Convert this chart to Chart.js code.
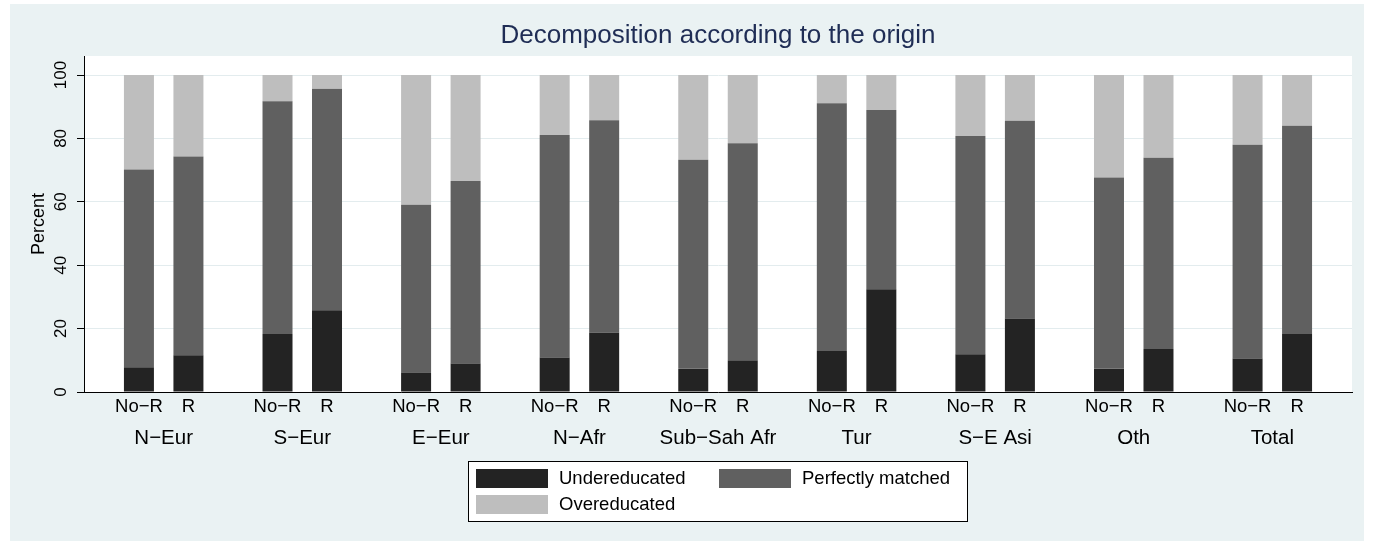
<!DOCTYPE html>
<html>
<head>
<meta charset="utf-8">
<script src="https://cdn.jsdelivr.net/npm/chart.js@4.4.1/dist/chart.umd.min.js"></script>
<style>
  body { margin: 0; background: #fff; }
  #wrap { position: absolute; left: 10px; top: 4px; width: 1354px; height: 537px; background: #eaf2f3; }
</style>
</head>
<body>
<div id="wrap"><canvas id="decompChart"></canvas></div>
<script>
const origins = ['N−Eur', 'S−Eur', 'E−Eur', 'N−Afr', 'Sub−Sah Afr', 'Tur', 'S−E Asi', 'Oth', 'Total'];
const groups = ['No−R', 'R'];
const yTicks = [0, 20, 40, 60, 80, 100];

// shares (percent)
const underNoR   = [7.8, 18.3, 6.1, 10.9, 7.3, 12.9, 11.9, 7.3, 10.6];
const matchedNoR = [62.4, 73.4, 53.0, 70.2, 66.0, 78.2, 68.9, 60.4, 67.4];
const overNoR    = [29.8, 8.3, 40.9, 18.9, 26.7, 8.9, 19.2, 32.3, 22.0];
const underR     = [11.6, 25.8, 9.0, 18.7, 10.0, 32.4, 23.2, 13.6, 18.3];
const matchedR   = [62.7, 69.9, 57.6, 67.0, 68.5, 56.6, 62.4, 60.3, 65.7];
const overR      = [25.7, 4.3, 33.4, 14.3, 21.5, 11.0, 14.4, 26.1, 16.0];

const FONT = '"Liberation Sans", Arial, Helvetica, sans-serif';
const colors = ['#232323', '#606060', '#bebebe'];
const names = ['Undereducated', 'Perfectly matched', 'Overeducated'];
const series = [[underNoR, matchedNoR, overNoR], [underR, matchedR, overR]];

const datasets = [];
series.forEach((parts, k) => {
    parts.forEach((vals, j) => {
        datasets.push({
            label: names[j],
            stack: groups[k],
            data: vals.map((v, i) => ({ x: i, y: v })),
            backgroundColor: colors[j],
            borderWidth: 0,
            categoryPercentage: 0.7144,
            barPercentage: 0.606
        });
    });
});

// white plot region
const plotBg = {
    id: 'plotBg',
    beforeDraw(chart) {
        const { ctx, chartArea: a } = chart;
        ctx.save();
        ctx.fillStyle = '#fff';
        ctx.fillRect(a.left, a.top, a.right - a.left, a.bottom - a.top);
        ctx.restore();
    }
};

// No-R / R under each bar
const subLabels = {
    id: 'subLabels',
    afterDatasetsDraw(chart) {
        const { ctx, chartArea: a } = chart;
        ctx.save();
        ctx.font = '18.5px ' + FONT;
        ctx.fillStyle = '#000';
        ctx.textAlign = 'center';
        ctx.textBaseline = 'middle';
        groups.forEach((g, k) => {
            chart.getDatasetMeta(k * 3).data.forEach(bar => ctx.fillText(g, bar.x, a.bottom + 15));
        });
        ctx.restore();
    }
};

// boxed legend, two columns
const boxLegend = {
    id: 'boxLegend',
    afterDraw(chart) {
        const { ctx, chartArea: a } = chart;
        const cx = (a.left + a.right) / 2;
        const left = cx - 250, top = a.bottom + 69, w = 500, h = 61;
        ctx.save();
        ctx.fillStyle = '#fff';
        ctx.fillRect(left, top, w, h);
        ctx.strokeStyle = '#000';
        ctx.lineWidth = 1;
        ctx.strokeRect(left + 0.5, top + 0.5, w - 1, h - 1);
        ctx.font = '18.5px ' + FONT;
        ctx.textAlign = 'left';
        ctx.textBaseline = 'middle';
        chart.data.datasets.slice(0, 3).forEach((ds, i) => {
            const sx = left + 8 + (i % 2) * 243;
            const sy = top + 8 + Math.floor(i / 2) * 26;
            ctx.fillStyle = ds.backgroundColor;
            ctx.fillRect(sx, sy, 72, 19);
            ctx.fillStyle = '#000';
            ctx.fillText(ds.label, sx + 83, sy + 10);
        });
        ctx.restore();
    }
};

const ctx = document.getElementById('decompChart').getContext('2d');
const chart = new Chart(ctx, {
    type: 'bar',
    data: { datasets: datasets },
    plugins: [plotBg, subLabels, boxLegend],
    options: {
        responsive: true,
        maintainAspectRatio: false,
        animation: false,
        events: [],
        layout: { padding: { left: 0, right: 12, top: 0, bottom: 69 } },
        plugins: {
            legend: { display: false },
            tooltip: { enabled: false },
            title: {
                display: true,
                text: 'Decomposition according to the origin',
                color: '#1f2d55',
                fullSize: false,
                font: { family: FONT, size: 26, weight: 'normal' },
                padding: { top: 16.4, bottom: 4.4 }
            }
        },
        scales: {
            x: {
                type: 'linear',
                offset: false,
                min: -0.575,
                max: 8.575,
                grid: { display: false, drawTicks: false, offset: false },
                border: { display: true, color: '#000', width: 1 },
                afterBuildTicks: s => { s.ticks = origins.map((o, i) => ({ value: i })); },
                afterFit: s => { s.height = 80; },
                ticks: {
                    autoSkip: false,
                    maxRotation: 0,
                    padding: 34,
                    color: '#000',
                    font: { family: FONT, size: 20.5 },
                    callback: v => origins[v]
                }
            },
            y: {
                stacked: true,
                min: 0,
                max: 106,
                afterBuildTicks: s => { s.ticks = yTicks.map(v => ({ value: v })); },
                afterFit: s => { s.width = 74; },
                grid: { color: '#e3ecee', tickColor: '#000', tickLength: 7, lineWidth: 1 },
                border: { display: true, color: '#000', width: 1 },
                ticks: {
                    minRotation: 90,
                    maxRotation: 90,
                    crossAlign: 'center',
                    padding: 2,
                    color: '#000',
                    font: { family: FONT, size: 17 }
                },
                title: {
                    display: true,
                    text: 'Percent',
                    color: '#000',
                    font: { family: FONT, size: 18 },
                    padding: { top: 18.3, bottom: 0 }
                }
            }
        }
    }
});
</script>
</body>
</html>
